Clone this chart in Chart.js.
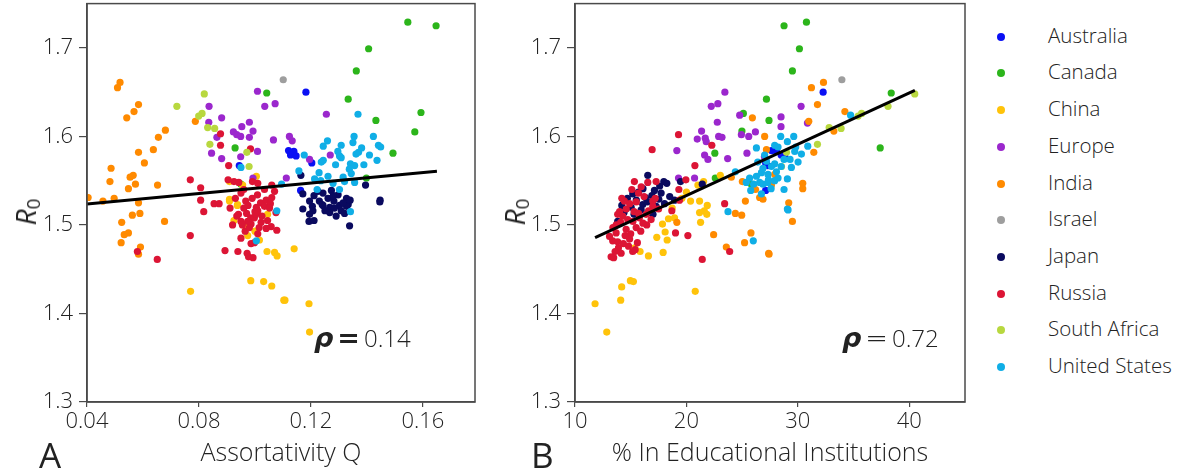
<!DOCTYPE html>
<html>
<head>
<meta charset="utf-8">
<script src="https://cdn.jsdelivr.net/npm/chart.js@4.4.0/dist/chart.umd.min.js"></script>
<style>
html,body{margin:0;padding:0;background:#fff;}
body{width:1180px;height:471px;position:relative;overflow:hidden;font-family:'Open Sans',sans-serif;font-weight:300;color:#222;}
canvas{position:absolute;top:0;}
#cA{left:0;}
#cB{left:488px;}
.txt{position:absolute;white-space:nowrap;line-height:1;}
.ylab{font-size:28px;font-weight:400;transform:translate(-50%,-50%) rotate(-90deg);}
.ylab i{font-style:italic;}
.ylab sub{font-size:19px;vertical-align:-4px;font-style:normal;}
.panel{font-size:35px;font-weight:400;}
.rho{font-family:'DejaVu Sans',sans-serif;font-weight:bold;font-style:italic;font-size:27px;}
.eq{font-family:'DejaVu Sans',sans-serif;font-size:27px;margin:0 4px;}
.val{font-size:24px;}
#legend{position:absolute;left:0;top:0;}
.li{position:absolute;font-size:20.5px;line-height:1;white-space:nowrap;}
.dot{position:absolute;width:8px;height:8px;border-radius:50%;}
</style>
</head>
<body>
<canvas id="cA" width="480" height="471"></canvas>
<canvas id="cB" width="482" height="471"></canvas>
<div class="txt ylab" style="left:27px;top:212px;"><i>R</i><sub>0</sub></div>
<div class="txt ylab" style="left:516px;top:212px;"><i>R</i><sub>0</sub></div>
<div class="txt panel" style="left:39px;top:437px;">A</div>
<div class="txt panel" style="left:531px;top:437px;">B</div>
<div class="txt" id="rhoA" style="left:314px;top:324px;"><span class="rho">ρ</span><span class="eq" style="font-weight:bold;">=</span><span class="val">0.14</span></div>
<div class="txt" id="rhoB" style="left:842px;top:324px;"><span class="rho">ρ</span><span class="eq">=</span><span class="val">0.72</span></div>
<div id="legend"></div>
<script>
const countries = ['Australia', 'Canada', 'China', 'Europe', 'India', 'Israel', 'Japan', 'Russia', 'South Africa', 'United States'];
const colors = ['#0a10f4', '#2cb51b', '#ffc30a', '#9b27cd', '#ff8a00', '#9e9e9e', '#0a0a5f', '#dc1535', '#b8d83f', '#10aee6'];

// Panel A: assortativity Q against R0
const australiaA = [[0.1182,1.650],[0.1120,1.584],[0.1139,1.583],[0.1127,1.579],[0.1147,1.578],[0.1203,1.570],[0.1163,1.539],[0.0944,1.567]];
const canadaA = [[0.1546,1.729],[0.1647,1.725],[0.1406,1.699],[0.1362,1.674],[0.1333,1.642],[0.1593,1.627],[0.1432,1.618],[0.1571,1.605],[0.1493,1.581],[0.1398,1.553],[0.1042,1.649],[0.0929,1.587],[0.0950,1.546]];
const chinaA = [[0.1140,1.473],[0.1107,1.415],[0.1193,1.411],[0.1195,1.379],[0.0770,1.425],[0.0985,1.437],[0.1031,1.436],[0.1060,1.431],[0.1103,1.415],[0.1043,1.470],[0.1070,1.469],[0.1079,1.465],[0.0938,1.523],[0.0909,1.527],[0.1045,1.512],[0.1016,1.483],[0.0974,1.488],[0.0909,1.529],[0.0937,1.522],[0.0956,1.545],[0.1005,1.555],[0.0909,1.549],[0.0960,1.500],[0.1000,1.493],[0.0925,1.505]];
const europeA = [[0.1009,1.651],[0.0836,1.634],[0.1035,1.634],[0.1072,1.637],[0.0835,1.616],[0.0881,1.621],[0.0980,1.616],[0.0953,1.611],[0.0923,1.605],[0.0935,1.602],[0.0993,1.606],[0.0949,1.600],[0.0980,1.599],[0.0864,1.599],[0.1066,1.596],[0.0845,1.581],[0.0881,1.575],[0.0949,1.577],[0.1009,1.583],[0.0993,1.553],[0.1255,1.625],[0.1123,1.600],[0.1133,1.595],[0.1195,1.574],[0.1269,1.579],[0.1112,1.553]];
const indiaA = [[0.0518,1.661],[0.0509,1.655],[0.0584,1.636],[0.0568,1.628],[0.0542,1.621],[0.0680,1.607],[0.0655,1.599],[0.0787,1.617],[0.0637,1.585],[0.0584,1.582],[0.0605,1.570],[0.0486,1.564],[0.0565,1.556],[0.0554,1.554],[0.0482,1.549],[0.0573,1.546],[0.0652,1.545],[0.0548,1.541],[0.0404,1.531],[0.0457,1.527],[0.0497,1.530],[0.0584,1.525],[0.0562,1.511],[0.0589,1.513],[0.0677,1.504],[0.0524,1.503],[0.0548,1.491],[0.0533,1.489],[0.0522,1.480],[0.0591,1.475],[0.0584,1.467]];
const israelA = [[0.1101,1.664]];
const japanA = [[0.1164,1.556],[0.1395,1.545],[0.1447,1.528],[0.1171,1.535],[0.1211,1.533],[0.1243,1.536],[0.1273,1.539],[0.1297,1.534],[0.1195,1.527],[0.1261,1.530],[0.1282,1.527],[0.1327,1.530],[0.1333,1.523],[0.1240,1.523],[0.1302,1.522],[0.1205,1.521],[0.1267,1.520],[0.1171,1.518],[0.1207,1.516],[0.1243,1.522],[0.1267,1.514],[0.1308,1.516],[0.1327,1.521],[0.1193,1.504],[0.1211,1.505],[0.1338,1.499],[0.1446,1.526],[0.1284,1.519],[0.1230,1.527],[0.1280,1.533],[0.1315,1.525],[0.1250,1.516],[0.1195,1.512],[0.1320,1.513],[0.1290,1.510],[0.1340,1.528],[0.1225,1.538]];
const russiaA = [[0.0877,1.603],[0.0877,1.590],[0.0984,1.586],[0.0906,1.567],[0.0769,1.551],[0.0806,1.542],[0.0904,1.551],[0.0925,1.549],[0.0942,1.548],[0.0991,1.549],[0.1010,1.547],[0.1034,1.540],[0.1009,1.534],[0.0950,1.536],[0.0806,1.528],[0.0854,1.524],[0.0872,1.524],[0.0911,1.519],[0.0967,1.527],[0.0975,1.522],[0.0990,1.530],[0.1005,1.520],[0.1020,1.525],[0.1040,1.528],[0.1055,1.524],[0.1000,1.515],[0.0985,1.508],[0.0941,1.512],[0.0920,1.500],[0.0950,1.485],[0.0965,1.493],[0.0986,1.501],[0.0998,1.508],[0.1010,1.516],[0.1034,1.521],[0.1052,1.519],[0.1040,1.496],[0.1058,1.498],[0.1078,1.494],[0.1010,1.490],[0.0998,1.480],[0.0986,1.479],[0.0893,1.471],[0.0939,1.470],[0.0972,1.468],[0.0977,1.464],[0.0993,1.463],[0.0935,1.510],[0.0950,1.504],[0.0974,1.504],[0.1022,1.503],[0.0970,1.513],[0.1003,1.512],[0.0960,1.519],[0.1075,1.514],[0.0980,1.497],[0.1025,1.510],[0.1045,1.505],[0.1060,1.531],[0.0930,1.530],[0.0960,1.540],[0.1015,1.497],[0.0955,1.500],[0.0769,1.488],[0.0817,1.515],[0.0580,1.470],[0.0651,1.461],[0.1060,1.545],[0.1070,1.538]];
const southAfricaA = [[0.0819,1.648],[0.0721,1.634],[0.0811,1.626],[0.0799,1.623],[0.0831,1.610],[0.0856,1.609],[0.0839,1.591],[0.0971,1.582],[0.0979,1.566]];
const unitedStatesA = [[0.1368,1.625],[0.1354,1.600],[0.1423,1.600],[0.1259,1.595],[0.1350,1.593],[0.1441,1.590],[0.1449,1.588],[0.1244,1.589],[0.1308,1.590],[0.1381,1.587],[0.1296,1.583],[0.1370,1.582],[0.1361,1.580],[0.1409,1.579],[0.1302,1.578],[0.1308,1.576],[0.1176,1.579],[0.1244,1.573],[0.1436,1.573],[0.1237,1.571],[0.1288,1.568],[0.1389,1.568],[0.1341,1.569],[0.1356,1.567],[0.1337,1.563],[0.1157,1.561],[0.1229,1.559],[0.1315,1.554],[0.1344,1.558],[0.1213,1.552],[0.1261,1.555],[0.1235,1.550],[0.1356,1.548],[0.1320,1.549],[0.1279,1.547],[0.1302,1.540],[0.1222,1.540],[0.1095,1.546],[0.0950,1.565],[0.1078,1.516],[0.1005,1.482],[0.1341,1.515]];

// Panel B: share of the population in educational institutions against R0
const australiaB = [[32.27,1.650],[27.63,1.584],[28.08,1.583],[28.50,1.579],[28.82,1.578],[27.11,1.570],[27.11,1.539],[27.30,1.567]];
const canadaB = [[28.76,1.725],[30.77,1.729],[30.14,1.699],[29.51,1.674],[27.18,1.642],[27.41,1.618],[38.38,1.649],[37.39,1.587],[25.11,1.626],[24.98,1.606],[22.55,1.581],[25.83,1.546],[22.59,1.553]];
const chinaB = [[21.54,1.549],[23.04,1.556],[21.03,1.545],[20.37,1.527],[21.18,1.527],[21.87,1.522],[21.18,1.514],[21.60,1.516],[21.83,1.512],[21.27,1.503],[18.39,1.507],[18.93,1.508],[18.72,1.519],[17.85,1.501],[18.09,1.492],[17.34,1.486],[18.27,1.483],[15.36,1.474],[15.84,1.470],[16.59,1.465],[17.91,1.469],[14.97,1.437],[15.24,1.436],[14.19,1.430],[14.10,1.415],[11.80,1.411],[12.85,1.379],[20.79,1.425],[19.60,1.530],[20.00,1.537]];
const europeB = [[23.45,1.650],[22.23,1.634],[22.82,1.637],[24.78,1.624],[22.77,1.616],[21.36,1.606],[20.97,1.597],[21.69,1.598],[21.78,1.594],[22.89,1.600],[23.19,1.599],[24.93,1.602],[25.59,1.600],[26.19,1.605],[19.14,1.584],[21.63,1.579],[21.93,1.574],[23.70,1.575],[25.43,1.581],[27.00,1.577],[19.29,1.553],[20.73,1.553],[30.29,1.634],[28.49,1.622],[28.49,1.611],[30.86,1.615]];
const indiaB = [[32.30,1.661],[31.22,1.655],[31.76,1.636],[34.22,1.628],[30.98,1.617],[33.23,1.606],[31.43,1.582],[27.02,1.600],[27.18,1.585],[30.44,1.547],[30.44,1.541],[27.63,1.545],[27.92,1.557],[29.18,1.525],[25.92,1.621],[25.02,1.549],[24.03,1.554],[25.29,1.527],[26.57,1.531],[26.87,1.529],[24.39,1.513],[24.96,1.511],[19.14,1.503],[22.44,1.489],[23.58,1.475],[25.79,1.491],[25.22,1.480],[27.38,1.468],[29.51,1.504],[27.41,1.467],[26.20,1.540]];
const israelB = [[33.95,1.664]];
const japanB = [[16.53,1.556],[17.97,1.549],[18.24,1.547],[19.47,1.549],[21.42,1.546],[15.18,1.535],[15.70,1.537],[16.32,1.531],[17.13,1.539],[17.73,1.536],[17.52,1.529],[16.08,1.523],[18.03,1.524],[18.93,1.528],[15.04,1.520],[13.83,1.504],[16.50,1.526],[17.28,1.521],[15.94,1.517],[15.50,1.528],[16.90,1.533],[14.70,1.530],[16.10,1.541],[17.60,1.544],[18.50,1.532],[15.30,1.512],[14.40,1.514],[16.70,1.514],[14.20,1.522],[17.00,1.512]];
const russiaB = [[16.92,1.585],[19.29,1.602],[22.28,1.590],[20.76,1.567],[19.95,1.551],[19.32,1.540],[15.33,1.549],[15.94,1.543],[16.53,1.548],[17.28,1.549],[15.69,1.536],[14.43,1.527],[14.90,1.524],[15.50,1.526],[16.98,1.527],[19.38,1.528],[23.43,1.524],[13.83,1.512],[14.28,1.510],[14.73,1.506],[15.20,1.504],[15.78,1.508],[16.38,1.512],[16.83,1.506],[16.44,1.500],[15.49,1.497],[14.59,1.495],[13.69,1.491],[13.38,1.482],[13.83,1.481],[14.34,1.479],[14.14,1.468],[13.24,1.464],[13.47,1.463],[15.18,1.470],[15.40,1.472],[18.69,1.516],[19.02,1.491],[20.13,1.488],[21.42,1.461],[23.88,1.470],[16.98,1.521],[17.50,1.518],[14.60,1.518],[15.30,1.515],[13.70,1.500],[14.10,1.503],[15.00,1.490],[15.90,1.493],[14.90,1.484],[13.90,1.474],[14.50,1.488],[15.60,1.480],[16.10,1.502],[13.40,1.497],[14.20,1.530],[15.10,1.540],[16.20,1.532],[13.10,1.487],[14.80,1.476],[16.60,1.516],[17.20,1.530],[13.60,1.470],[15.70,1.513],[14.00,1.515]];
const southAfricaB = [[40.49,1.648],[38.09,1.634],[35.72,1.626],[35.41,1.623],[32.81,1.610],[33.88,1.609],[31.76,1.591],[28.98,1.582],[28.53,1.566]];
const unitedStatesB = [[34.73,1.624],[29.63,1.600],[28.46,1.600],[29.06,1.594],[27.92,1.590],[28.22,1.588],[29.81,1.588],[30.89,1.589],[30.32,1.580],[29.72,1.583],[28.76,1.574],[30.02,1.571],[29.42,1.565],[27.92,1.569],[27.63,1.566],[28.08,1.560],[27.32,1.557],[28.22,1.553],[27.92,1.550],[29.06,1.552],[27.32,1.548],[28.76,1.540],[29.06,1.518],[26.28,1.587],[24.39,1.560],[25.67,1.553],[26.28,1.555],[26.73,1.559],[26.87,1.564],[27.18,1.572],[25.77,1.539],[26.03,1.546],[26.57,1.548],[26.87,1.546],[26.73,1.535],[25.37,1.548],[27.36,1.551],[27.02,1.579],[23.73,1.515],[26.00,1.482],[29.12,1.517],[28.50,1.566],[27.60,1.541],[26.40,1.571],[29.30,1.574]];

// Least-squares fit lines (end points)
const fitA = [[0.0400,1.5236],[0.1650,1.5607]];
const fitB = [[11.8,1.4857],[40.5,1.6520]];

// Axis ticks
const rTicks = [1.3, 1.4, 1.5, 1.6, 1.7];
const qTicks = [0.04, 0.08, 0.12, 0.16];
const eduTicks = [10, 20, 30, 40];

const seriesA = [australiaA, canadaA, chinaA, europeA, indiaA, israelA, japanA, russiaA, southAfricaA, unitedStatesA];
const seriesB = [australiaB, canadaB, chinaB, europeB, indiaB, israelB, japanB, russiaB, southAfricaB, unitedStatesB];

const FONT = "'Open Sans', sans-serif";
const AXIS = '#4a4a4a';

const frame = {
  id: 'frame',
  afterDatasetsDraw(chart) {
    const a = chart.chartArea, ctx = chart.ctx;
    ctx.save();
    ctx.strokeStyle = AXIS;
    ctx.lineWidth = 1.5;
    ctx.strokeRect(a.left, a.top, a.right - a.left, a.bottom - a.top);
    ctx.restore();
  }
};

const toPts = arr => arr.map(p => ({x: p[0], y: p[1]}));

function panel(id, series, fit, xMin, xMax, xTicks, xDigits, xTitle, rightPad) {
  const datasets = series.map((s, i) => ({
    label: countries[i],
    data: toPts(s),
    backgroundColor: colors[i],
    borderWidth: 0,
    pointRadius: 3.6,
    pointHoverRadius: 3.6,
    order: -i
  }));
  datasets.push({
    type: 'line',
    label: 'fit',
    data: toPts(fit),
    borderColor: '#000',
    borderWidth: 3,
    pointRadius: 0,
    fill: false,
    order: -100
  });
  return new Chart(document.getElementById(id), {
    type: 'scatter',
    data: {datasets},
    plugins: [frame],
    options: {
      responsive: false,
      animation: false,
      devicePixelRatio: 1,
      events: [],
      layout: {padding: {left: 0, right: rightPad, top: 2, bottom: 0}},
      plugins: {legend: {display: false}, tooltip: {enabled: false}},
      scales: {
        x: {
          type: 'linear', min: xMin, max: xMax,
          afterFit: s => { s.height = 69; s.paddingLeft = 0; s.paddingRight = 0; },
          afterBuildTicks: s => { s.ticks = xTicks.map(v => ({value: v})); },
          border: {display: true, color: AXIS, width: 1.5},
          grid: {display: true, drawOnChartArea: false, drawTicks: true, tickLength: 5, color: AXIS, lineWidth: 1.2},
          ticks: {font: {family: FONT, size: 22, weight: '300'}, color: '#222', padding: 2, maxRotation: 0,
                  callback: v => Number(v).toFixed(xDigits)},
          title: {display: true, text: xTitle, font: {family: FONT, size: 25, weight: '300'}, color: '#222', padding: {top: 0, bottom: 2}}
        },
        y: {
          type: 'linear', min: 1.3, max: 1.75,
          afterFit: s => { s.width = 87; s.paddingTop = 0; s.paddingBottom = 0; },
          afterBuildTicks: s => { s.ticks = rTicks.map(v => ({value: v})); },
          border: {display: true, color: AXIS, width: 1.5},
          grid: {display: true, drawOnChartArea: false, drawTicks: true, tickLength: 8, color: AXIS, lineWidth: 1.2},
          ticks: {font: {family: FONT, size: 22, weight: '300'}, color: '#222', padding: 6,
                  callback: v => Number(v).toFixed(1)}
        }
      }
    }
  });
}

panel('cA', seriesA, fitA, 0.04, 0.1786, qTicks, 2, 'Assortativity Q', 5);
panel('cB', seriesB, fitB, 10, 45, eduTicks, 0, '% In Educational Institutions', 5);

// Legend
const legend = document.getElementById('legend');
countries.forEach((name, i) => {
  const cy = 36.7 + i * 36.7;
  const d = document.createElement('div');
  d.className = 'dot';
  d.style.left = (1000.5 - 4) + 'px';
  d.style.top = (cy - 4) + 'px';
  d.style.background = colors[i];
  legend.appendChild(d);
  const t = document.createElement('div');
  t.className = 'li';
  t.textContent = name;
  t.style.left = '1048px';
  t.style.top = (cy - 12) + 'px';
  legend.appendChild(t);
});
</script>
</body>
</html>
